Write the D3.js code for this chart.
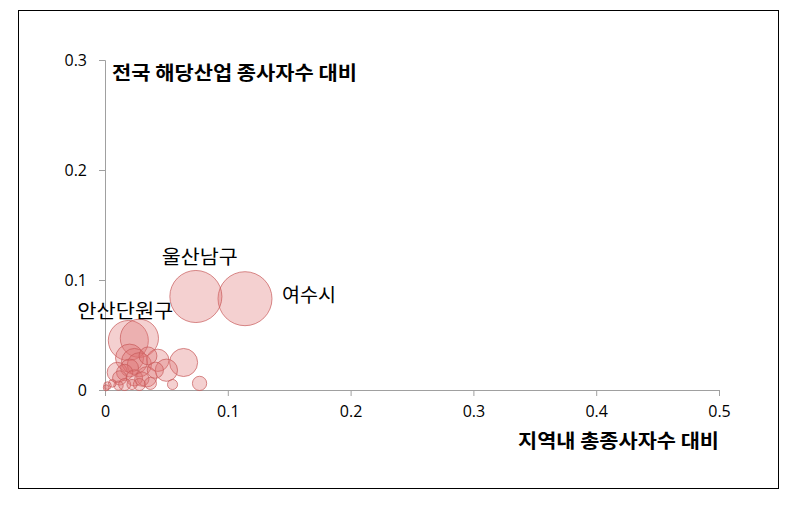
<!DOCTYPE html>
<html><head><meta charset="utf-8">
<script src="https://cdn.jsdelivr.net/npm/d3@7"></script>
<style>
body{margin:0;background:#fff;}
svg{display:block;}
</style></head>
<body>
<svg id="c" width="789" height="516"></svg>
<script>
// ---- data ----
const names = ["울산남구","여수시","안산단원구","","","","","","","","","","","","","","","","","","","","","","","","","",""];
const xValues = [0.074,0.114,0.019,0.028,0.020,0.024,0.043,0.064,0.050,0.034,0.010,0.016,0.024,0.030,0.055,0.077,0.002,0.006,0.011,0.016,0.022,0.028,0.037,0.001,0.012,0.020,0.041,0.035,0.028];
const yValues = [0.085,0.083,0.045,0.047,0.029,0.026,0.027,0.025,0.018,0.012,0.016,0.016,0.011,0.010,0.005,0.006,0.004,0.006,0.004,0.005,0.005,0.005,0.006,0.002,0.011,0.020,0.018,0.031,0.023];
const sizes   = [93,100,55,50,27,23,17,27,17,14,14,9,9,7,3.5,7,2,2,3,5,3.5,5,5,1.2,7,11,9,11,20];
const xTicks = [0,0.1,0.2,0.3,0.4,0.5];
const yTicks = [0,0.1,0.2,0.3];
const xTitle = "지역내 총종사자수 대비";
const yTitle = "전국 해당산업 종사자수 대비";

const svg = d3.select("#c");
// frame
svg.append("rect").attr("x",18.5).attr("y",10.5).attr("width",760).attr("height",478)
  .attr("fill","none").attr("stroke","#000").attr("stroke-width",1);

const x = d3.scaleLinear().domain([0,0.5]).range([105,719]);
const y = d3.scaleLinear().domain([0,0.3]).range([390,60]);
const r = d3.scaleSqrt().domain([0,100]).range([0,27]);

const tickFont = "'Open Sans','Noto Sans',sans-serif";
const korFont = "'Noto Sans CJK KR','Noto Sans',sans-serif";

const xAxis = svg.append("g").attr("transform","translate(0,390)")
  .call(d3.axisBottom(x).tickValues(xTicks).tickSize(6).tickPadding(10).tickFormat(d=>d===0?"0":d3.format(".1f")(d)));
const yAxis = svg.append("g").attr("transform","translate(105,0)")
  .call(d3.axisLeft(y).tickValues(yTicks).tickSize(6).tickPadding(12).tickFormat(d=>d===0?"0":d3.format(".1f")(d)));
[xAxis,yAxis].forEach(g=>{
  g.select(".domain").attr("stroke","#a0a0a0");
  g.selectAll(".tick line").attr("stroke","#a0a0a0");
  g.selectAll(".tick text").attr("fill","#000").attr("font-family",tickFont).attr("font-size",16);
});

// bubbles
const data = xValues.map((v,i)=>({x:v,y:yValues[i],s:sizes[i],n:names[i]}));
const order = data.slice().sort((a,b)=>b.s-a.s);
svg.append("g").selectAll("circle").data(order).join("circle")
  .attr("cx",d=>x(d.x)).attr("cy",d=>y(d.y)).attr("r",d=>r(d.s))
  .attr("fill","rgba(222,112,112,0.33)")
  .attr("stroke","rgba(200,90,90,0.7)").attr("stroke-width",1);

// titles
svg.append("text").attr("x",112).attr("y",80).text(yTitle)
  .attr("font-family",korFont).attr("font-weight","bold").attr("font-size",19)
  .attr("textLength",245).attr("lengthAdjust","spacingAndGlyphs");
svg.append("text").attr("x",518).attr("y",448).text(xTitle)
  .attr("font-family",korFont).attr("font-weight","bold").attr("font-size",19)
  .attr("textLength",201).attr("lengthAdjust","spacingAndGlyphs");

// labels
const labelOffsets = {"울산남구":[-34,-33,76],"여수시":[37,3,54],"안산단원구":[-51,-23,96]};
data.filter(d=>d.n).forEach(d=>{
  const o = labelOffsets[d.n];
  svg.append("text").attr("x",x(d.x)+o[0]).attr("y",y(d.y)+o[1]).text(d.n)
    .attr("font-family",korFont).attr("font-size",19).attr("fill","#000")
    .attr("textLength",o[2]).attr("lengthAdjust","spacingAndGlyphs");
});
</script>
</body></html>
